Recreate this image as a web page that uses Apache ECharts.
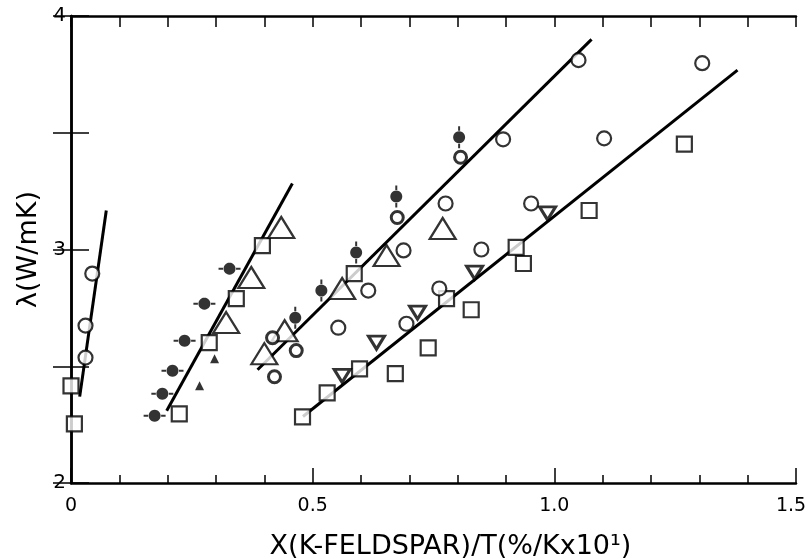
<!DOCTYPE html>
<html>
<head>
<meta charset="utf-8">
<title>lambda vs X/T</title>
<script src="https://cdn.jsdelivr.net/npm/echarts@6/dist/echarts.min.js"></script>
<style>
  html, body { margin: 0; padding: 0; background: #fff; }
  #chart { width: 809px; height: 559px; }
</style>
</head>
<body>
<div id="chart"></div>
<script>
  /** Data: [X(K-feldspar)/T, lambda] */
  var barHCircles = [[0.173, 2.288], [0.189, 2.382], [0.210, 2.481], [0.235, 2.609], [0.276, 2.768], [0.328, 2.918]];
  var barVCircles = [[0.803, 3.481], [0.673, 3.227], [0.590, 2.987], [0.518, 2.824], [0.464, 2.708]];
  var halfCircles = [[0.806, 3.395], [0.675, 3.137], [0.417, 2.622], [0.466, 2.567], [0.421, 2.455]];
  var openCircles = [
    [0.030, 2.537], [0.030, 2.674], [0.044, 2.897],
    [0.894, 3.472], [1.050, 3.811], [1.306, 3.798], [1.103, 3.476], [0.952, 3.197],
    [0.775, 3.197], [0.688, 2.996], [0.849, 3.000], [0.615, 2.824], [0.553, 2.665],
    [0.762, 2.833], [0.694, 2.682]
  ];
  var openTriangles = [
    [0.321, 2.687], [0.373, 2.880], [0.435, 3.094],
    [0.400, 2.554], [0.442, 2.652], [0.561, 2.833], [0.653, 2.974], [0.769, 3.090]
  ];
  var downTriangles = [[0.561, 2.459], [0.632, 2.601], [0.717, 2.730], [0.835, 2.901], [0.986, 3.155]];
  var smallTriangles = [[0.266, 2.416], [0.297, 2.532]];
  var openSquares = [
    [0.000, 2.416], [0.007, 2.253],
    [0.224, 2.296], [0.286, 2.601], [0.342, 2.790], [0.396, 3.017], [0.586, 2.897],
    [0.479, 2.283], [0.530, 2.386], [0.597, 2.489], [0.777, 2.790], [0.921, 3.009],
    [0.671, 2.468], [0.739, 2.579], [0.828, 2.742], [0.936, 2.940], [1.072, 3.167], [1.269, 3.451]
  ];
  /** fitted lines */
  var line1 = [[0.018, 2.370], [0.073, 3.167]];
  var line2 = [[0.198, 2.309], [0.458, 3.283]];
  var line3 = [[0.386, 2.485], [1.077, 3.900]];
  var line4 = [[0.480, 2.285], [1.379, 3.768]];

  /** Symbols: filled disc (polygon) with an error bar on two sides */
  function disc(r) {
    var p = [];
    for (var i = 0; i < 24; i++) {
      var a = i / 24 * Math.PI * 2;
      p.push((i ? 'L' : 'M') + (r * Math.cos(a)).toFixed(2) + ',' + (r * Math.sin(a)).toFixed(2));
    }
    return p.join(' ') + ' Z';
  }
  var symBarH = 'path://' + disc(6) + ' M-11,-1 L-6.5,-1 L-6.5,1 L-11,1 Z M6.5,-1 L11,-1 L11,1 L6.5,1 Z';
  var symBarV = 'path://' + disc(6) + ' M-1,-11 L1,-11 L1,-6.5 L-1,-6.5 Z M-1,6.5 L1,6.5 L1,11 L-1,11 Z';

  var font = 'DejaVu Sans';

  function lineSeries(data) {
    return {
      type: 'line', data: data, symbol: 'none', silent: true, z: 1,
      lineStyle: { color: '#000', width: 3 }
    };
  }
  function markSeries(data, symbol, size, fill, border, rotate) {
    return {
      type: 'scatter', data: data, symbol: symbol, symbolSize: size,
      symbolRotate: rotate || 0, z: 3,
      itemStyle: { color: fill, borderColor: '#000', borderWidth: border }
    };
  }

  var option = {
    backgroundColor: '#fff',
    animation: false,
    grid: { left: 71, right: 13, top: 16, bottom: 76, containLabel: false, outerBoundsMode: 'none' },
    xAxis: [{
      type: 'value', min: 0, max: 1.5, interval: 0.5,
      name: 'X(K-FELDSPAR)/T(%/Kx10\u00b9)', nameLocation: 'middle', nameGap: 50,
      nameTextStyle: { fontFamily: font, fontSize: 27, color: '#000', padding: [0, 0, 0, 34] },
      axisLine: { lineStyle: { color: '#000', width: 2.5 } },
      axisTick: { inside: true, length: 15, lineStyle: { color: '#000', width: 1.5 } },
      minorTick: { show: true, splitNumber: 5, length: 8, lineStyle: { color: '#000', width: 1.5 } },
      splitLine: { show: false },
      axisLabel: {
        margin: 14, fontFamily: font, fontSize: 19, color: '#000',
        formatter: function(v) {
          if (v === 0) return '0';
          if (v === 1.5) return '{last|1.5}';
          return v.toFixed(1);
        },
        rich: { last: { fontFamily: font, fontSize: 19, color: '#000', padding: [0, 10, 0, 0] } }
      }
    }, {
      type: 'value', position: 'top', min: 0, max: 1.5, interval: 0.1,
      axisLine: { lineStyle: { color: '#000', width: 2.5 } },
      axisTick: { inside: true, length: 11, lineStyle: { color: '#000', width: 1.5 } },
      axisLabel: { show: false }, splitLine: { show: false }
    }],
    yAxis: [{
      type: 'value', min: 2, max: 4, interval: 0.5,
      name: '\u03bb(W/mK)', nameLocation: 'middle', nameGap: 28,
      nameTextStyle: { fontFamily: font, fontSize: 27, color: '#000' },
      axisLine: { show: true, lineStyle: { color: '#000', width: 2.5 } },
      axisTick: { show: true, inside: true, length: 18, lineStyle: { color: '#000', width: 1.5 } },
      splitLine: { show: false },
      axisLabel: {
        margin: 5, fontFamily: font, fontSize: 20, color: '#000',
        formatter: function(v) { return v % 1 === 0 ? String(v) : ''; }
      }
    }, {
      type: 'value', position: 'right', min: 2, max: 4, interval: 0.5,
      axisLine: { show: true, lineStyle: { color: '#000', width: 2.5 } },
      axisTick: { show: true, inside: true, length: 18, lineStyle: { color: '#000', width: 1.5 } },
      axisLabel: { show: false }, splitLine: { show: false }
    }],
    series: [
      lineSeries(line1), lineSeries(line2), lineSeries(line3), lineSeries(line4),
      markSeries(openSquares, 'rect', 15, '#fff', 2.2),
      markSeries(openTriangles, 'triangle', [26, 21], '#fff', 2.2),
      markSeries(downTriangles, 'triangle', [16, 13], '#fff', 3, 180),
      markSeries(smallTriangles, 'triangle', 9, '#000', 0),
      markSeries(openCircles, 'circle', 14, '#fff', 2.2),
      markSeries(halfCircles, 'circle', 12, '#fff', 3),
      markSeries(barHCircles, symBarH, [22, 12], '#000', 0),
      markSeries(barVCircles, symBarV, [12, 22], '#000', 0)
    ]
  };

  echarts.init(document.getElementById('chart')).setOption(option);
</script>
</body>
</html>
